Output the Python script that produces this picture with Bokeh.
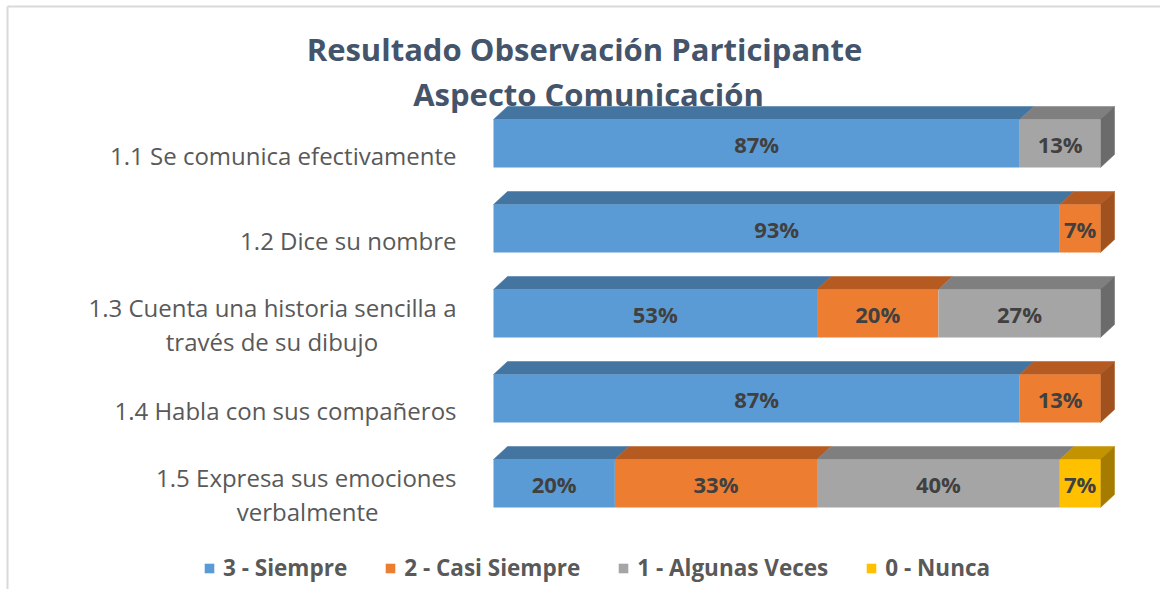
from bokeh.plotting import figure
from bokeh.models import Range1d, Legend, LegendItem, Label, ColumnDataSource
from bokeh.embed import file_html
from bokeh.resources import INLINE
from bokeh.core.properties import value
import numpy as np

# ---------------- data ----------------
categories = [
    "1.1 Se comunica efectivamente",
    "1.2 Dice su nombre",
    "1.3 Cuenta una historia sencilla a\ntravés de su dibujo",
    "1.4 Habla con sus compañeros",
    "1.5 Expresa sus emociones\nverbalmente",
]
series_names = ["3 - Siempre", "2 - Casi Siempre", "1 - Algunas Veces", "0 - Nunca"]
siempre = [86.7, 93.3, 53.3, 86.7, 20.0]
casi_siempre = [0.0, 6.7, 20.0, 13.3, 33.3]
algunas_veces = [13.3, 0.0, 26.7, 0.0, 40.0]
nunca = [0.0, 0.0, 0.0, 0.0, 6.7]
title_lines = ["Resultado  Observación Participante", "Aspecto Comunicación"]

# ---------------- style ----------------
front_colors = ["#5B9BD5", "#ED7D31", "#A5A5A5", "#FFC000"]
top_colors = ["#4475A1", "#B55B22", "#7F7F7F", "#C49300"]
side_colors = ["#3A6690", "#A0511D", "#6B6B6B", "#A67C00"]
FONT = "Open Sans"
LABEL_PX = 24

W, H = 1160, 589
PX0, PX100 = 493, 1100          # canvas px of 0% and 100%
ROW_PX = 85                      # px between rows
ROW1_PX = 143                    # canvas y of first row centre
LABEL_RIGHT = 456
ppu = (PX100 - PX0) / 100.0
n = len(categories)
ys = np.arange(n, 0, -1).astype(float)
y_end = n + ROW1_PX / ROW_PX
y_start = y_end - H / ROW_PX
x_start = -PX0 / ppu
x_end = (W - PX0) / ppu


def px_x(px):
    return x_start + px / ppu


def px_y(py):
    return y_end - py / ROW_PX


def est_width(s, size):
    """rough Open Sans text width estimate in px"""
    w = 0.0
    for ch in s:
        if ch in "ijl.,' ":
            w += 0.26
        elif ch in "ft":
            w += 0.35
        elif ch == "r":
            w += 0.41
        elif ch in "scz":
            w += 0.48
        elif ch in "eaé":
            w += 0.56
        elif ch.isdigit():
            w += 0.57
        elif ch.isupper():
            w += 0.64
        else:
            w += 0.61
    return w * size


bar_h = 48 / ROW_PX
dx = 14 / ppu
dy = 13 / ROW_PX

p = figure(width=W, height=H, x_range=Range1d(x_start, x_end), y_range=Range1d(y_start, y_end),
           output_backend="svg", toolbar_location=None, min_border=0,
           x_axis_location=None, y_axis_location=None)
p.grid.visible = False
p.outline_line_color = None
p.background_fill_color = "white"

# chart border (left and top edges visible)
p.segment(x0=[px_x(7), px_x(7)], y0=[px_y(6), px_y(6)], x1=[px_x(7), px_x(W)], y1=[px_y(H), px_y(6)],
          line_color="#D9D9D9", line_width=2)

series = [np.array(siempre), np.array(casi_siempre), np.array(algunas_veces), np.array(nunca)]
lefts = []
acc = np.zeros(n)
for s in series:
    lefts.append(acc.copy())
    acc = acc + s
rights = [l + s for l, s in zip(lefts, series)]

# top faces
for k, s in enumerate(series):
    xs, yy = [], []
    for i in range(n):
        if s[i] <= 0:
            continue
        l, r = lefts[k][i], rights[k][i]
        yt = ys[i] + bar_h / 2
        xs.append([l, r, r + dx, l + dx])
        yy.append([yt, yt, yt + dy, yt + dy])
    if xs:
        p.patches(xs, yy, fill_color=top_colors[k], line_color=top_colors[k], line_width=0.5)

# right side faces (last non-zero segment)
sx, sy, sc = [], [], []
for i in range(n):
    last = max(k for k in range(len(series)) if series[k][i] > 0)
    r = rights[last][i]
    yb, yt = ys[i] - bar_h / 2, ys[i] + bar_h / 2
    sx.append([r, r + dx, r + dx, r])
    sy.append([yb, yb + dy, yt + dy, yt])
    sc.append(side_colors[last])
p.patches(sx, sy, fill_color=sc, line_color=sc, line_width=0.5)

# front faces
renderers = []
for k, s in enumerate(series):
    src = ColumnDataSource(dict(y=ys, left=lefts[k], right=rights[k]))
    r = p.hbar(y="y", left="left", right="right", height=bar_h, source=src,
               fill_color=front_colors[k], line_color=None)
    renderers.append(r)

# value labels
lx, ly, lt = [], [], []
for k, s in enumerate(series):
    for i in range(n):
        if s[i] > 0:
            lx.append((lefts[k][i] + rights[k][i]) / 2)
            ly.append(ys[i])
            lt.append(f"{round(s[i]):.0f}%")
p.text(x=lx, y=ly, text=lt, text_font=value(FONT), text_font_size="22px", text_font_style="bold",
       text_color="#404040", text_align="center", text_baseline="middle")

# category labels
rx, ry, rt, cx, cy, ct = [], [], [], [], [], []
for i, c in enumerate(categories):
    lines = c.split("\n")
    if len(lines) == 1:
        rx.append(px_x(LABEL_RIGHT))
        ry.append(ys[i] - 12 / ROW_PX)
        rt.append(c)
    else:
        rx.append(px_x(LABEL_RIGHT))
        ry.append(ys[i] + 6 / ROW_PX)
        rt.append(lines[0])
        w1 = est_width(lines[0], LABEL_PX)
        cx.append(px_x(LABEL_RIGHT - w1 / 2))
        cy.append(ys[i] - 27.5 / ROW_PX)
        ct.append(lines[1])
p.text(x=rx, y=ry, text=rt, text_font=value(FONT), text_font_size=f"{LABEL_PX}px",
       text_color="#595959", text_align="right", text_baseline="middle")
p.text(x=cx, y=cy, text=ct, text_font=value(FONT), text_font_size=f"{LABEL_PX}px",
       text_color="#595959", text_align="center", text_baseline="middle")

# title
for t, yy0 in zip(title_lines, [H - 48, H - 93]):
    p.add_layout(Label(x=588, y=yy0, x_units="screen", y_units="screen", text=t,
                       text_font=FONT, text_font_size="31px", text_font_style="bold",
                       text_color="#44546A", text_align="center", text_baseline="middle"))

# legend
legend = Legend(items=[LegendItem(label=nm, renderers=[r]) for nm, r in zip(series_names, renderers)],
                orientation="horizontal", location=(203, 6),
                label_text_font=FONT, label_text_font_size="22.5px", label_text_font_style="bold",
                label_text_color="#595959", glyph_width=12, glyph_height=12, spacing=37,
                label_standoff=8, padding=0, margin=0, border_line_color=None,
                background_fill_alpha=0)
p.add_layout(legend)

open("out.html", "w").write(file_html(p, INLINE))
